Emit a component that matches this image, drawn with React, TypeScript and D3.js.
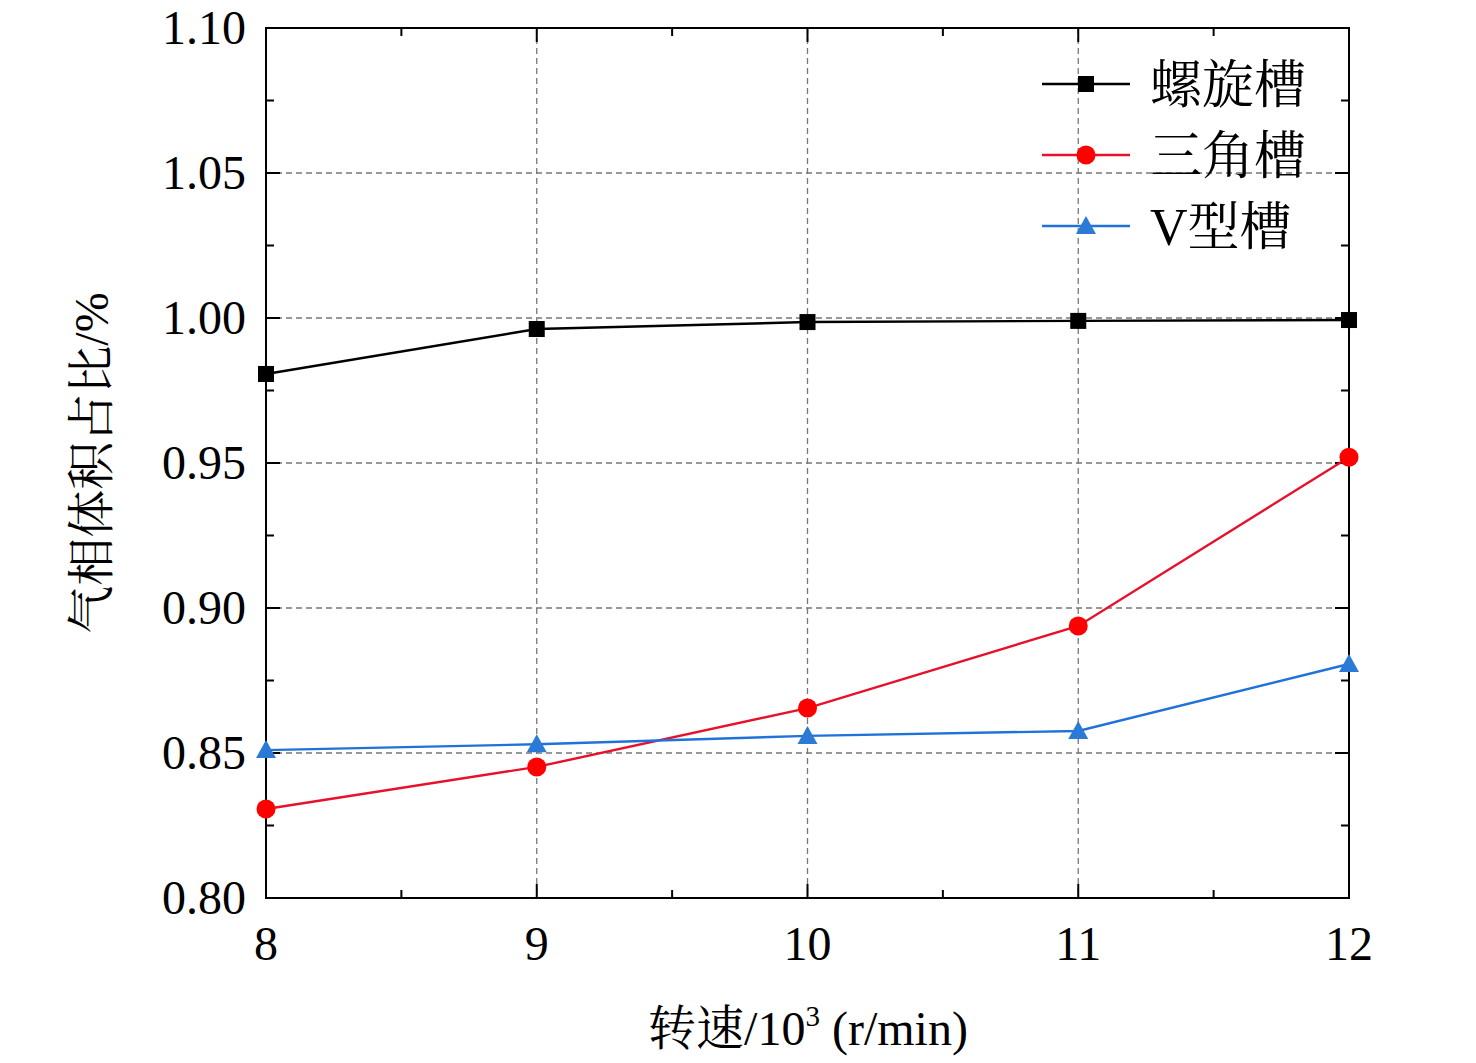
import React from "react";
import * as d3 from "d3";

const xs = [8, 9, 10, 11, 12];
const spiral = [0.9807, 0.9962, 0.9986, 0.999, 0.9993];
const triangle = [0.8307, 0.8452, 0.8655, 0.8938, 0.952];
const vtype = [0.851, 0.853, 0.8559, 0.8576, 0.8807];
const yTicks = [0.8, 0.85, 0.9, 0.95, 1.0, 1.05, 1.1];
const names = ["螺旋槽", "三角槽", "V型槽"];
const colors = ["#000000", "#e8102a", "#1f73d8"];
const markerFill = ["#000000", "#ff0000", "#2a7ad6"];

const FONT = "'Liberation Serif', 'Noto Serif CJK SC', 'Noto Sans CJK SC', serif";

export default function App() {
  const L = 266, R = 1349, T = 28, B = 898;
  const x = d3.scaleLinear().domain([8, 12]).range([L, R]);
  const y = d3.scaleLinear().domain([0.8, 1.1]).range([B, T]);
  const line = d3.line<number>().x((_, i) => x(xs[i])).y((d) => y(d));
  const series = [spiral, triangle, vtype];
  const minorX = [8.5, 9.5, 10.5, 11.5];
  const minorY = [0.825, 0.875, 0.925, 0.975, 1.025, 1.075];

  const marker = (k: number, cx: number, cy: number, key: string) => {
    if (k === 0) return <rect key={key} x={cx - 8} y={cy - 8} width={16} height={16} fill={markerFill[0]} />;
    if (k === 1) return <circle key={key} cx={cx} cy={cy} r={9.5} fill={markerFill[1]} />;
    return <path key={key} d={`M${cx},${cy - 10}L${cx + 10},${cy + 8}L${cx - 10},${cy + 8}Z`} fill={markerFill[2]} />;
  };

  return (
    <svg width={1476} height={1063} style={{ position: "absolute", left: 0, top: 0, background: "#fff" }} fontFamily={FONT}>
      {xs.slice(1, -1).map((v) => (
        <line key={"gx" + v} x1={x(v)} x2={x(v)} y1={T} y2={B} stroke="#777" strokeDasharray="6,4" strokeWidth={1.3} />
      ))}
      {yTicks.slice(1, -1).map((v) => (
        <line key={"gy" + v} x1={L} x2={R} y1={y(v)} y2={y(v)} stroke="#777" strokeDasharray="6,4" strokeWidth={1.3} />
      ))}
      {xs.map((v) => (
        <g key={"tx" + v}>
          <line x1={x(v)} x2={x(v)} y1={B} y2={B - 14} stroke="#000" strokeWidth={2} />
          <line x1={x(v)} x2={x(v)} y1={T} y2={T + 14} stroke="#000" strokeWidth={2} />
          <text x={x(v)} y={B + 62} textAnchor="middle" fontSize={48}>{v}</text>
        </g>
      ))}
      {minorX.map((v) => (
        <g key={"mx" + v}>
          <line x1={x(v)} x2={x(v)} y1={B} y2={B - 8} stroke="#000" strokeWidth={2} />
          <line x1={x(v)} x2={x(v)} y1={T} y2={T + 8} stroke="#000" strokeWidth={2} />
        </g>
      ))}
      {yTicks.map((v) => (
        <g key={"ty" + v}>
          <line x1={L} x2={L + 14} y1={y(v)} y2={y(v)} stroke="#000" strokeWidth={2} />
          <line x1={R} x2={R - 14} y1={y(v)} y2={y(v)} stroke="#000" strokeWidth={2} />
          <text x={L - 20} y={y(v) + 16} textAnchor="end" fontSize={48}>{v.toFixed(2)}</text>
        </g>
      ))}
      {minorY.map((v) => (
        <g key={"my" + v}>
          <line x1={L} x2={L + 8} y1={y(v)} y2={y(v)} stroke="#000" strokeWidth={2} />
          <line x1={R} x2={R - 8} y1={y(v)} y2={y(v)} stroke="#000" strokeWidth={2} />
        </g>
      ))}
      <rect x={L} y={T} width={R - L} height={B - T} fill="none" stroke="#000" strokeWidth={2} />
      {series.map((s, k) => (
        <g key={"s" + k}>
          <path d={line(s) || ""} fill="none" stroke={colors[k]} strokeWidth={2.4} />
          {s.map((v, i) => marker(k, x(xs[i]), y(v), `m${k}-${i}`))}
        </g>
      ))}
      {names.map((n, k) => {
        const ly = 84 + k * 71;
        return (
          <g key={"l" + k}>
            <line x1={1042} x2={1130} y1={ly} y2={ly} stroke={colors[k]} strokeWidth={2.4} />
            {marker(k, 1086, ly, "lm" + k)}
            <text x={1150} y={ly + 19} fontSize={52}>{n}</text>
          </g>
        );
      })}
      <text x={808} y={1045} textAnchor="middle" fontSize={48}>
        转速/10<tspan fontSize={29} dy={-19}>3</tspan><tspan dy={19}> (r/min)</tspan>
      </text>
      <text transform="translate(108,463) rotate(-90)" textAnchor="middle" fontSize={48}>气相体积占比/%</text>
    </svg>
  );
}
